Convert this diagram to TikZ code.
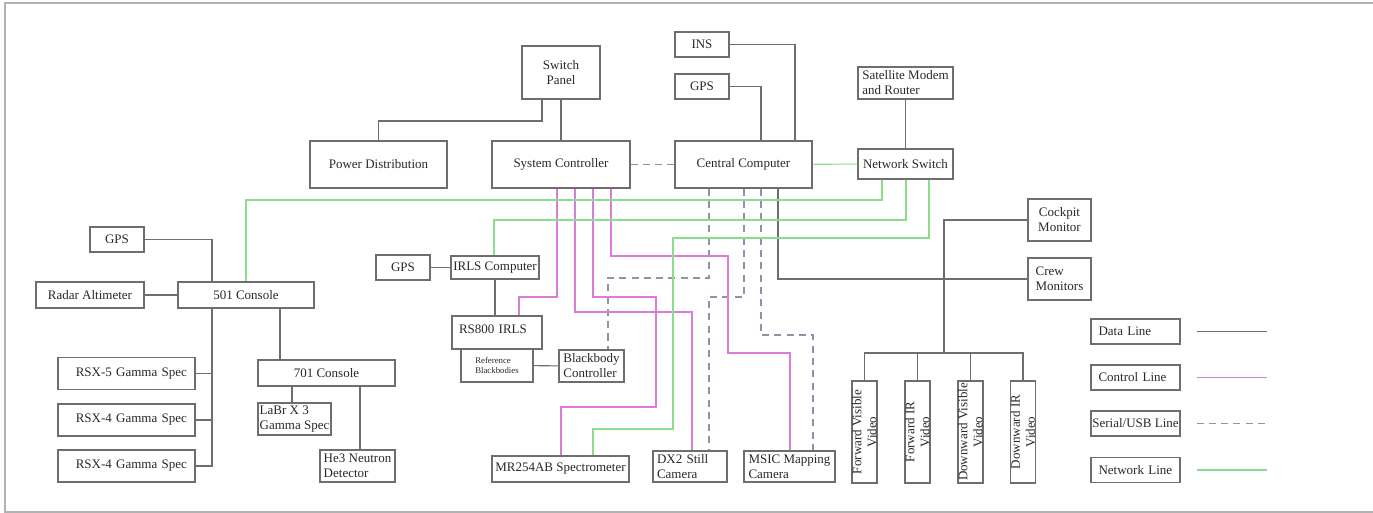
\documentclass[tikz,border=0pt]{standalone}
\usepackage{fontspec}
\setmainfont{Liberation Serif}
\usepackage{tikz}
\usetikzlibrary{calc}
\definecolor{boxgray}{RGB}{110,110,110}
\definecolor{txtgray}{RGB}{40,40,40}
\definecolor{ctrlpink}{RGB}{218,125,218}
\definecolor{netgreen}{RGB}{140,222,140}
\definecolor{serblue}{RGB}{145,145,170}
\tikzset{
  blk/.style={draw=boxgray, line width=0.6pt, inner sep=0pt, text=txtgray, font=\fontsize{7.4}{8.5}\selectfont, align=center},
  sz/.style 2 args={minimum width=#1*0.02cm, minimum height=#2*0.02cm},
  lblk/.style={blk, align=left},
  rsx/.style={blk, sz={137}{32}, align=right, text width=2.42cm},
  vid/.style={blk, rotate=90, sz={102}{25}},
  legbox/.style={blk, align=left, sz={89}{25}},
  legl/.style={legbox, text width=1.76cm},
  dataln/.style={draw=boxgray, line width=0.6pt},
  ctrlln/.style={draw=ctrlpink, line width=0.6pt},
  serln/.style={draw=serblue, line width=0.6pt, dash pattern=on 4pt off 3pt},
  netln/.style={draw=netgreen, line width=0.6pt},
}

\begin{document}
\begin{tikzpicture}[x=0.02cm, y=-0.02cm]
\useasboundingbox (0,0) rectangle (1373,513);
\draw[black!30, line width=1pt] (1373,3) -- (5,3) -- (5,512) -- (1373,512);

\node[blk, sz={137}{47}] (pwr) at (378.5,164.5) {Power Distribution};
\node[blk, sz={78}{53}] (swp) at (561,72.5) {Switch\\Panel};
\node[blk, sz={138}{47}] (sysc) at (561,164.5) {System Controller};
\node[blk, sz={54}{25}] (ins) at (702,44.5) {INS};
\node[blk, sz={54}{25}] (gpsa) at (702,86.5) {GPS};
\node[blk, sz={137}{47}] (cc) at (743.5,164.5) {Central Computer};
\node[lblk, sz={95}{32}] (sat) at (905.5,83) {Satellite Modem\\and Router};
\node[blk, sz={95}{30}] (nsw) at (905.5,164) {Network Switch};

\node[blk, sz={54}{25}] (gpsb) at (117,239.5) {GPS};
\node[blk, sz={108}{26}] (radar) at (90,295) {Radar Altimeter};
\node[blk, sz={136}{26}] (c501) at (246,295) {501 Console};
\node[rsx] (rsx5) at (126.5,373.5) {RSX-5 Gamma Spec};
\node[rsx] (rsx4a) at (126.5,420) {RSX-4 Gamma Spec};
\node[rsx] (rsx4b) at (126.5,466) {RSX-4 Gamma Spec};
\node[blk, sz={137}{26}] (c701) at (326.5,373) {701 Console};
\node[lblk, sz={73}{32}] (labr) at (294.5,419) {LaBr X 3\\Gamma Spec};
\node[lblk, sz={75}{32}] (he3) at (357.5,466) {He3 Neutron\\Detector};

\node[blk, sz={54}{25}] (gpsc) at (403,267.5) {GPS};
\node[blk, sz={88}{23}] (irls) at (495,267.5) {IRLS Computer};
\node[lblk, sz={90}{33}, text width=1.52cm, text depth=0.14cm] (rs800) at (497,332.5) {RS800 IRLS};
\node[lblk, sz={72}{33}, font=\fontsize{5}{5.7}\selectfont] (refbb) at (497,365.5) {Reference\\Blackbodies};
\node[lblk, sz={65}{32}] (bbc) at (591.5,366) {Blackbody\\Controller};
\node[blk, sz={137}{26}] (mr) at (560.5,469) {MR254AB Spectrometer};
\node[lblk, sz={74}{31}, text width=1.32cm] (dx2) at (690,466.5) {DX2 Still\\Camera};
\node[lblk, sz={91}{31}] (msic) at (789.5,466.5) {MSIC Mapping\\Camera};

\node[blk, sz={63}{42}] (cockpit) at (1059.5,220) {Cockpit\\Monitor};
\node[lblk, sz={63}{42}] (crew) at (1059.5,279) {Crew\\Monitors};
\node[vid] (fv) at (864.5,432) {Forward Visible\\Video};
\node[vid] (fir) at (917.5,432) {Forward IR\\Video};
\node[vid] (dv) at (970.5,432) {Downward Visible\\Video};
\node[vid] (dir) at (1023,432) {Downward IR\\Video};
\coordinate (vbus) at (944,353);

\node[legl] (ldata) at (1135.5,331.5) {\hspace*{0.14cm}Data Line};
\node[legl] (lctrl) at (1135.5,377.5) {\hspace*{0.14cm}Control Line};
\node[legbox] (lser) at (1135.5,423.5) {Serial/USB Line};
\node[legl] (lnet) at (1135.5,470) {\hspace*{0.14cm}Network Line};

\draw[dataln] (pwr.north) |- (542,121) -- (swp.south -| 542,0);
\draw[dataln] (swp) -- (sysc);
\draw[dataln] (ins.east) -| (cc.north -| 795,0);
\draw[dataln] (gpsa.east) -| (cc.north -| 761,0);
\draw[dataln] (sat) -- (nsw);
\draw[dataln] (cc.south -| 778,0) |- (crew.west);
\draw[dataln] (cockpit.west) -| (vbus);
\foreach \v in {fv,fir,dv,dir}
  \draw[dataln] (\v.east) |- (vbus);

\draw[dataln] (gpsb.east) -| (c501.north -| 212,0);
\draw[dataln] (radar) -- (c501);
\foreach \r in {rsx5,rsx4a,rsx4b}
  \draw[dataln] (\r.east) -| (c501.south -| 212,0);
\draw[dataln] (c501.south -| 280,0) -- (c701.north -| 280,0);
\draw[dataln] (c701.south -| 292,0) -- (labr.north -| 292,0);
\draw[dataln] (c701.south -| 360,0) -- (he3.north -| 360,0);

\draw[dataln] (gpsc) -- (irls);
\draw[dataln] (irls.south) -- (irls.south |- rs800.north);
\draw[dataln] (refbb) -- (bbc);

\draw[serln] (sysc) -- (cc);
\draw[serln] (cc.south -| 709,0) |- (608,278) -- (bbc.north -| 608,0);
\draw[serln] (cc.south -| 744,0) |- (709,297) -- (dx2.north -| 709,0);
\draw[serln] (cc.south -| 761,0) |- (813,335) -- (msic.north -| 813,0);

\draw[ctrlln] (sysc.south -| 557,0) |- (519,297) -- (rs800.north -| 519,0);
\draw[ctrlln] (sysc.south -| 575,0) |- (692,312) -- (dx2.north -| 692,0);
\draw[ctrlln] (sysc.south -| 593,0) |- (656,297) |- (561,407) -- (mr.north -| 561,0);
\draw[ctrlln] (sysc.south -| 611,0) |- (728,256) |- (790,353) -- (msic.north -| 790,0);

\draw[netln] (cc) -- (nsw);
\draw[netln] (nsw.south -| 882,0) |- (246,200) -- (c501.north);
\draw[netln] (nsw.south -| 906,0) |- (494,220) -- (irls.north -| 494,0);
\draw[netln] (nsw.south -| 929,0) |- (673,238) |- (593,429) -- (mr.north -| 593,0);

\draw[dataln] ($(ldata.east)+(16,0)$) -- ++(70,0);
\draw[ctrlln] ($(lctrl.east)+(16,0)$) -- ++(70,0);
\draw[serln] ($(lser.east)+(16,0)$) -- ++(70,0);
\draw[netln] ($(lnet.east)+(16,0)$) -- ++(70,0);
\end{tikzpicture}
\end{document}
